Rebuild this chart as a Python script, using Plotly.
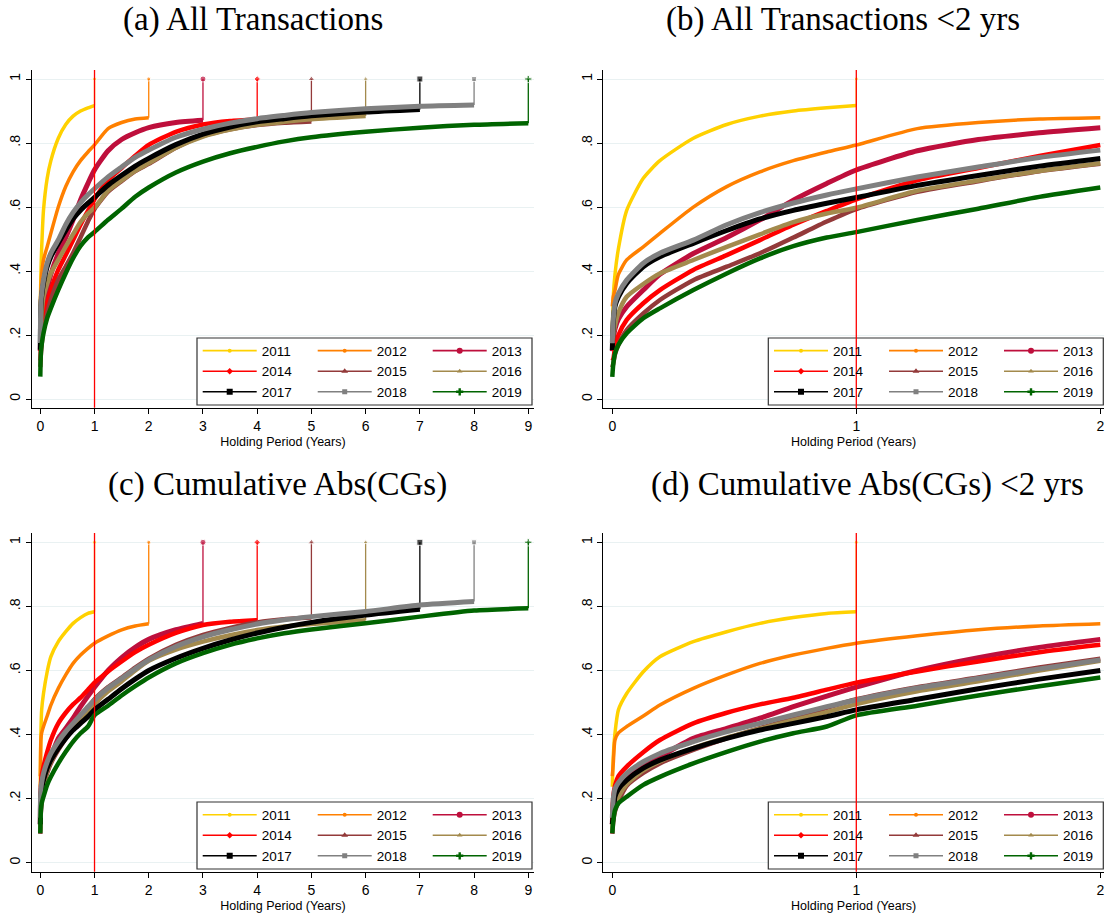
import plotly.graph_objects as go

# ---------------------------------------------------------------------------
# Data: cumulative share by holding period (years), one series per cohort year
# ---------------------------------------------------------------------------
YEARS = [2011, 2012, 2013, 2014, 2015, 2016, 2017, 2018, 2019]

# holding-period grid shared by all series; each series covers the first
# len(series) grid points
HOLD_GRID = [0, 0.004, 0.011, 0.025, 0.059, 0.127, 0.195, 0.332, 0.469, 0.605,
             0.742, 0.879, 1.0, 1.25, 1.5, 1.75, 2.0, 2.5, 3.0, 3.5, 4.0, 4.5,
             5.0, 6.0, 7.0, 8.0, 9.0]

# last holding period observed for each cohort (the curve jumps to 1 there)
END_PERIOD = [1, 2, 3, 4, 5, 6, 7, 8, 9]

# share of all transactions
ALL_2011 = [0.21, 0.32, 0.39, 0.47, 0.59, 0.69, 0.745, 0.815, 0.858, 0.884,
            0.90, 0.91, 0.917]
ALL_2012 = [0.29, 0.32, 0.34, 0.39, 0.435, 0.476, 0.518, 0.60, 0.664, 0.71,
            0.745, 0.772, 0.794, 0.845, 0.864, 0.875, 0.879]
ALL_2013 = [0.15, 0.185, 0.22, 0.25, 0.289, 0.341, 0.39, 0.455, 0.505, 0.56,
            0.622, 0.674, 0.716, 0.776, 0.811, 0.832, 0.848, 0.864, 0.871]
ALL_2014 = [0.12, 0.125, 0.16, 0.20, 0.248, 0.30, 0.341, 0.404, 0.45, 0.497,
            0.545, 0.588, 0.624, 0.684, 0.722, 0.76, 0.794, 0.835, 0.858,
            0.869, 0.874]
ALL_2015 = [0.10, 0.112, 0.14, 0.17, 0.216, 0.268, 0.31, 0.372, 0.414, 0.456,
            0.505, 0.555, 0.594, 0.648, 0.681, 0.712, 0.735, 0.785, 0.822,
            0.843, 0.856, 0.863, 0.867]
ALL_2016 = [0.17, 0.20, 0.23, 0.27, 0.32, 0.36, 0.393, 0.435, 0.476, 0.515,
            0.553, 0.58, 0.598, 0.651, 0.683, 0.713, 0.737, 0.785, 0.82,
            0.842, 0.857, 0.866, 0.874, 0.884]
ALL_2017 = [0.154, 0.24, 0.29, 0.32, 0.362, 0.414, 0.445, 0.487, 0.527, 0.563,
            0.59, 0.612, 0.63, 0.668, 0.699, 0.728, 0.752, 0.795, 0.828,
            0.85, 0.866, 0.876, 0.885, 0.897, 0.905]
ALL_2018 = [0.175, 0.25, 0.30, 0.33, 0.372, 0.425, 0.456, 0.497, 0.545, 0.583,
            0.613, 0.638, 0.657, 0.694, 0.725, 0.755, 0.778, 0.818, 0.843,
            0.862, 0.876, 0.886, 0.895, 0.907, 0.915, 0.919]
ALL_2019 = [0.07, 0.11, 0.143, 0.17, 0.206, 0.253, 0.284, 0.341, 0.393, 0.44,
            0.478, 0.505, 0.522, 0.56, 0.595, 0.632, 0.661, 0.708, 0.742,
            0.768, 0.788, 0.805, 0.818, 0.835, 0.848, 0.857, 0.862]

# cumulative share of absolute capital gains
CGS_2011 = [0.237, 0.331, 0.404, 0.477, 0.528, 0.596, 0.643, 0.69, 0.721,
            0.747, 0.765, 0.778, 0.783]
CGS_2012 = [0.27, 0.31, 0.383, 0.405, 0.425, 0.458, 0.492, 0.544, 0.586,
            0.622, 0.648, 0.669, 0.685, 0.708, 0.727, 0.739, 0.746]
CGS_2013 = [0.12, 0.186, 0.21, 0.24, 0.27, 0.30, 0.331, 0.388, 0.419, 0.451,
            0.487, 0.52, 0.548, 0.60, 0.64, 0.672, 0.697, 0.727, 0.747]
CGS_2014 = [0.12, 0.206, 0.24, 0.27, 0.30, 0.345, 0.383, 0.435, 0.468, 0.494,
            0.515, 0.54, 0.562, 0.597, 0.628, 0.657, 0.68, 0.717, 0.742,
            0.752, 0.757]
CGS_2015 = [0.09, 0.13, 0.16, 0.19, 0.24, 0.28, 0.31, 0.352, 0.388, 0.42,
            0.45, 0.483, 0.51, 0.548, 0.578, 0.609, 0.637, 0.68, 0.711,
            0.733, 0.75, 0.76, 0.765]
CGS_2016 = [0.10, 0.14, 0.175, 0.205, 0.245, 0.288, 0.316, 0.358, 0.39, 0.418,
            0.445, 0.47, 0.495, 0.535, 0.566, 0.60, 0.63, 0.665, 0.69, 0.71,
            0.726, 0.737, 0.745, 0.757]
CGS_2017 = [0.12, 0.15, 0.206, 0.23, 0.258, 0.295, 0.32, 0.357, 0.388, 0.414,
            0.435, 0.456, 0.477, 0.51, 0.543, 0.573, 0.60, 0.638, 0.669,
            0.695, 0.717, 0.735, 0.75, 0.773, 0.791]
CGS_2018 = [0.14, 0.20, 0.23, 0.25, 0.279, 0.315, 0.341, 0.378, 0.409, 0.435,
            0.461, 0.487, 0.508, 0.545, 0.575, 0.605, 0.633, 0.675, 0.705,
            0.727, 0.745, 0.758, 0.768, 0.784, 0.804, 0.815]
CGS_2019 = [0.092, 0.13, 0.164, 0.185, 0.206, 0.243, 0.268, 0.31, 0.346,
            0.378, 0.404, 0.425, 0.46, 0.49, 0.522, 0.551, 0.578, 0.622,
            0.654, 0.68, 0.70, 0.716, 0.728, 0.747, 0.768, 0.787, 0.794]

ALL_SERIES = [ALL_2011, ALL_2012, ALL_2013, ALL_2014, ALL_2015, ALL_2016,
              ALL_2017, ALL_2018, ALL_2019]
CGS_SERIES = [CGS_2011, CGS_2012, CGS_2013, CGS_2014, CGS_2015, CGS_2016,
              CGS_2017, CGS_2018, CGS_2019]

Y_TICKS = [0, 0.2, 0.4, 0.6, 0.8, 1]
Y_TICK_TEXT = ["0", ".2", ".4", ".6", ".8", "1"]

# ---------------------------------------------------------------------------
# Styling
# ---------------------------------------------------------------------------
COLORS = ["#FFD100", "#FF8000", "#BE0F3C", "#FF0000", "#933A3A", "#A38A4D",
          "#000000", "#808080", "#006400"]
SYMBOLS = ["circle", "circle", "circle", "diamond", "triangle-up",
           "triangle-up", "square", "square", "cross"]
SYM_SIZE = [4, 4, 6, 5, 6, 5, 6, 5, 6]
CURVE_W = [3.5, 3.5, 5, 4.5, 4.5, 4.5, 5, 5, 4.5]

W, H = 1107, 914
SANS = "Liberation Sans, Arial, sans-serif"
SERIF = "Liberation Serif, Times New Roman, serif"
GRID = "#E9F1F2"


def rng(p0, p1, lo, hi, v0, v1):
    """Axis range for a pixel span [lo, hi] where value v0 sits at p0, v1 at p1."""
    unit = (p1 - p0) / (v1 - v0)
    return [v0 + (lo - p0) / unit, v0 + (hi - p0) / unit]


def xp(px):
    return px / W


def yp(py):
    return 1 - py / H


# panel geometry in pixels
PANELS = [
    dict(title="(a) All Transactions", tx=253, ty=19, series=ALL_SERIES,
         short=False, xdom=(32, 534), x0=40.3, x1=528.3, xmax=9,
         ydom=(70, 407.7), y0=399.0, y1=79.0, leg=(197, 338)),
    dict(title="(b) All Transactions <2 yrs", tx=843, ty=19, series=ALL_SERIES,
         short=True, xdom=(603.3, 1104), x0=612.3, x1=1100.3, xmax=2,
         ydom=(70, 408.3), y0=399.3, y1=79.0, leg=(768.3, 338)),
    dict(title="(c) Cumulative Abs(CGs)", tx=277, ty=484, series=CGS_SERIES,
         short=False, xdom=(32, 534), x0=40.3, x1=528.3, xmax=9,
         ydom=(533, 871.7), y0=862.7, y1=542.3, leg=(197, 802)),
    dict(title="(d) Cumulative Abs(CGs) <2 yrs", tx=867, ty=484,
         series=CGS_SERIES, short=True, xdom=(603.3, 1104), x0=612.3,
         x1=1100.3, xmax=2, ydom=(533, 871.7), y0=862.7, y1=542.3,
         leg=(768.3, 802)),
]

fig = go.Figure()
layout = dict(
    width=W, height=H, margin=dict(l=0, r=0, t=0, b=0),
    paper_bgcolor="white", plot_bgcolor="white", showlegend=True,
    font=dict(family=SANS, color="#000000"),
)
shapes, annotations = [], []

legend_idx = 0
for pi, p in enumerate(PANELS):
    sfx = "" if pi == 0 else str(pi + 1)
    xa, ya = "x" + sfx, "y" + sfx

    # curves and end-of-window jumps
    for k, year in enumerate(YEARS):
        vals = p["series"][k]
        xs = HOLD_GRID[:len(vals)]
        pts = [(x, v) for x, v in zip(xs, vals) if x <= p["xmax"] + 1e-9]
        fig.add_trace(go.Scatter(
            x=[a for a, _ in pts], y=[b for _, b in pts], mode="lines",
            line=dict(color=COLORS[k], width=CURVE_W[k], shape="spline",
                      smoothing=0.6),
            xaxis=xa, yaxis=ya, showlegend=False, hoverinfo="skip"))
        end = END_PERIOD[k]
        if end < p["xmax"] or (not p["short"] and end <= p["xmax"]):
            fig.add_trace(go.Scatter(
                x=[end, end], y=[vals[-1], 1.0], mode="lines+markers",
                line=dict(color=COLORS[k], width=1.3),
                marker=dict(symbol=SYMBOLS[k], size=[0, SYM_SIZE[k]],
                            color=COLORS[k]),
                xaxis=xa, yaxis=ya, showlegend=False, hoverinfo="skip"))

    # legend: three columns of three entries inside a framed box
    lx, ly = p["leg"]
    shapes.append(dict(type="rect", xref="paper", yref="paper",
                       x0=xp(lx), x1=xp(lx + 335), y0=yp(ly + 67), y1=yp(ly),
                       line=dict(color="#333333", width=1.2),
                       fillcolor="white", layer="above"))
    for col in range(3):
        legend_idx += 1
        lname = "legend" if legend_idx == 1 else "legend%d" % legend_idx
        for row in range(3):
            k = row * 3 + col
            fig.add_trace(go.Scatter(
                x=[None], y=[None], mode="lines+markers", name=str(YEARS[k]),
                line=dict(color=COLORS[k], width=1.6),
                marker=dict(symbol=SYMBOLS[k], size=SYM_SIZE[k],
                            color=COLORS[k]),
                xaxis=xa, yaxis=ya, legend=lname, showlegend=True))
        layout[lname] = dict(
            x=xp(lx + 0.7 + col * 115), y=yp(ly - 2.6), xanchor="left",
            yanchor="top", orientation="v", bgcolor="rgba(0,0,0,0)",
            borderwidth=0, itemwidth=54, tracegroupgap=0,
            font=dict(family=SANS, size=13.5, color="#000000"),
            itemclick=False, itemdoubleclick=False)

    # axes
    xr = rng(p["x0"], p["x1"], p["xdom"][0], p["xdom"][1], 0, p["xmax"])
    yr = rng(p["y0"], p["y1"], p["ydom"][1], p["ydom"][0], 0, 1)
    layout["xaxis" + sfx] = dict(
        domain=[xp(p["xdom"][0]), xp(p["xdom"][1])], range=xr, anchor=ya,
        tickmode="array", tickvals=list(range(p["xmax"] + 1)),
        ticks="outside", ticklen=5, tickwidth=1, tickcolor="#000000",
        showline=True, linecolor="#000000", linewidth=1.2, showgrid=False,
        zeroline=False, tickfont=dict(family=SANS, size=14),
        title=dict(text="Holding Period (Years)", standoff=4,
                   font=dict(family=SANS, size=12.5)))
    layout["yaxis" + sfx] = dict(
        domain=[yp(p["ydom"][1]), yp(p["ydom"][0])], range=yr, anchor=xa,
        tickmode="array", tickvals=Y_TICKS, ticktext=Y_TICK_TEXT,
        tickangle=-90, ticks="outside", ticklen=5, tickwidth=1,
        tickcolor="#000000", showline=True, linecolor="#000000",
        linewidth=1.2, showgrid=True, gridcolor=GRID, gridwidth=1,
        zeroline=False, tickfont=dict(family=SANS, size=14))

    # one-year threshold
    shapes.append(dict(type="line", xref=xa, yref=ya + " domain", x0=1, x1=1,
                       y0=0, y1=1, line=dict(color="#FF0000", width=1.3),
                       layer="above"))

    annotations.append(dict(text=p["title"], x=xp(p["tx"]), y=yp(p["ty"]),
                            xref="paper", yref="paper", xanchor="center",
                            yanchor="middle", showarrow=False,
                            font=dict(family=SERIF, size=33, color="#000000")))

layout["shapes"] = shapes
layout["annotations"] = annotations
fig.update_layout(**layout)
fig.write_html("out.html")
